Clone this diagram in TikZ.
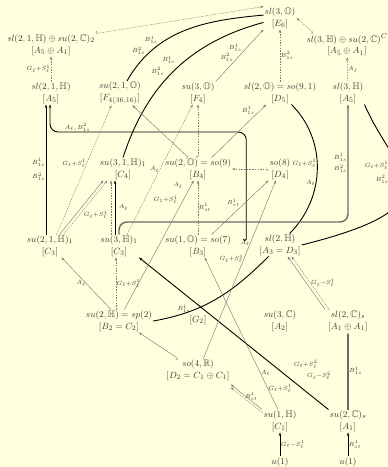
\documentclass[tikz,border=0pt]{standalone}
\usepackage{amsmath}
\usepackage{amssymb}
\usepackage{tikz}
\usetikzlibrary{arrows.meta}
\definecolor{bgyellow}{RGB}{255,255,221}
\definecolor{linegray}{RGB}{125,125,125}
\definecolor{textgray}{RGB}{60,60,60}

\begin{document}
\begin{tikzpicture}[x=1pt,y=1pt,>={Stealth[length=3.5pt,width=2.4pt]}]
  \tikzstyle{alg}=[align=center,font=\fontsize{9.5}{11.5}\selectfont,inner sep=1pt,text=textgray]
  \tikzstyle{lab}=[font=\fontsize{5.8}{6.5}\selectfont,inner sep=0.5pt,text=textgray]
  \tikzstyle{plain}=[->,draw=linegray,line width=0.45pt]
  \tikzstyle{dotarr}=[->,draw=linegray,line width=0.45pt,dash pattern=on 1.5pt off 1.2pt]
  \tikzstyle{heavy}=[->,draw=black,line width=0.9pt]
  \tikzstyle{arc}=[draw=black,line width=0.9pt]
  \tikzstyle{heavygray}=[->,draw=linegray!85!black,line width=1.4pt]
  \tikzstyle{hooked}=[{Hooks[right]}->]

  \fill[bgyellow] (0,0) rectangle (388,-467);
  \useasboundingbox (0,0) rectangle (388,-467);

  % algebras, row by row
  \node[alg] (E6) at (280,-18) {$sl(3,\mathbb{O})$\\$[E_6]$};
  \node[alg] (L1) at (51,-45) {$sl(2,1,\mathbb{H})\oplus su(2,\mathbb{C})_2$\\$[A_5\oplus A_1]$};
  \node[alg] (R1) at (347,-45) {$sl(3,\mathbb{H})\oplus su(2,\mathbb{C})^C$\\$[A_5\oplus A_1]$};
  \node[alg] (A5l) at (51,-93) {$sl(2,1,\mathbb{H})$\\$[A_5]$};
  \node[alg] (F4n) at (120,-93) {$su(2,1,\mathbb{O})$\\$[F_{4(36,16)}]$};
  \node[alg] (F4) at (198,-93) {$su(3,\mathbb{O})$\\$[F_4]$};
  \node[alg] (D5) at (280,-93) {$sl(2,\mathbb{O})=so(9,1)$\\$[D_5]$};
  \node[alg] (A5r) at (348,-93) {$sl(3,\mathbb{H})$\\$[A_5]$};
  \node[alg] (C4) at (123,-169) {$su(3,1,\mathbb{H})_1$\\$[C_4]$};
  \node[alg] (B4) at (198,-169) {$su(2,\mathbb{O})=so(9)$\\$[B_4]$};
  \node[alg] (D4) at (280,-169) {$so(8)$\\$[D_4]$};
  \node[alg] (C3a) at (50,-246) {$su(2,1,\mathbb{H})_1$\\$[C_3]$};
  \node[alg] (C3b) at (119,-246) {$su(3,\mathbb{H})_1$\\$[C_3]$};
  \node[alg] (B3) at (198,-246) {$su(1,\mathbb{O})=so(7)$\\$[B_3]$};
  \node[alg] (A3) at (280,-245) {$sl(2,\mathbb{H})$\\$[A_3=D_3]$};
  \node[alg] (B2) at (119,-321) {$su(2,\mathbb{H})=sp(2)$\\$[B_2=C_2]$};
  \node[alg] (G2) at (198,-320) {$[G_2]$};
  \node[alg] (A2) at (280,-321) {$su(3,\mathbb{C})$\\$[A_2]$};
  \node[alg] (A1A1) at (348,-321) {$sl(2,\mathbb{C})_s$\\$[A_1\oplus A_1]$};
  \node[alg] (D2) at (198,-370) {$so(4,\mathbb{R})$\\$[D_2=C_1\oplus C_1]$};
  \node[alg] (C1) at (280,-421) {$su(1,\mathbb{H})$\\$[C_1]$};
  \node[alg] (A1) at (348,-421) {$su(2,\mathbb{C})_s$\\$[A_1]$};
  \node[alg] (U1a) at (280,-462) {$u(1)$};
  \node[alg] (U1b) at (348,-462) {$u(1)$};

  % top of the diagram
  \draw[dotarr] (A5l) -- node[lab,left]{$G_\ell{+}S^1_\ell$} (L1);
  \draw[dotarr] (A5r) -- node[lab,right]{$A_\ell$} (R1);
  \draw[dotarr] (D5) -- node[lab,right]{$B^2_{1s}$} (E6);
  \draw[dotarr,hooked] (L1.north east) -- (E6.north west);
  \draw[dotarr,hooked] ([xshift=8pt]R1.north west) -- (E6.east);
  \draw[plain] (F4.north east) -- node[lab,above left,pos=.56]{$B^1_{1s}$}
    node[lab,above left,pos=.38]{$B^2_{1s}$} (E6.south west);
  \draw[arc] (F4n.60) to[out=60,in=185] node[lab,above left,pos=.3]{$B^1_{1s}$}
    node[lab,above left,pos=.19]{$B^2_{1s}$} (E6.170);
  \draw[arc] (C4.north) to[out=72,in=195] node[lab,left=10pt,pos=.58]{$B^1_{1s}$}
    node[lab,left=8pt,pos=.49]{$B^2_{1s}$} (E6.195);

  % arcs on the right
  \draw[arc] (A3.50) to[out=45,in=-45] node[lab,left,pos=.54]{$G_\ell{+}S^1_\ell$}
    node[lab,left,pos=.4]{$A_\ell$} (D5.-45);
  \draw[arc] (A3.east) .. controls +(160,40) and +(30,-70) ..
    node[lab,left=9pt,pos=.65]{$G_\ell{+}S^1_\ell$}
    node[lab,left=14pt,pos=.55]{$B^2_{1s}$} (A5r.south east);

  % long bracket paths
  \coordinate (hblack) at (0,-132);
  \coordinate (hgray) at (0,-222);
  \draw[heavy,hooked,rounded corners=8pt] ([xshift=-12pt,yshift=4pt]A3.west)
    |- node[lab,above,pos=.93]{$A_\ell,B^2_{1s}$} ([xshift=-1pt]A5l.south |- hblack)
    -- ([xshift=-1pt]A5l.south);
  \draw[heavygray,rounded corners=8pt] (C3b.north) |- (A5r.south |- hgray)
    -- node[lab,left,align=center]{$B^1_{1s}$\\[3pt]$B^2_{1s}$} (A5r.south);

  % straight heavy arrows
  \draw[heavy] ([xshift=-4pt]C3a.north) -- node[lab,left,align=center]{$B^1_{1s}$\\[6pt]$B^2_{1s}$}
    ([xshift=-4pt]C3a.north |- A5l.south);
  \draw[heavy] ([xshift=-4pt]C3b.north) -- node[lab,right=3pt]{$A_\ell$}
    ([xshift=-4pt]C3b.north |- C4.south);
  \draw[dotarr] ([xshift=-8pt]C3b.north) -- ([xshift=-8pt]C3b.north |- C4.south);
  \draw[heavy] (A1.north west) -- node[lab,above=22pt,pos=.12]{$G_\ell{+}S^2_\ell$}
    node[lab,above=21pt,pos=.05]{$G_\ell{-}S^2_\ell$} (C3b.south east);
  \draw[arc] (B2.east) to[out=10,in=-135] node[lab,above,pos=.22]{$B^1_{1s}$} (A3.-135);
  \draw[heavy] (U1a) -- node[lab,right]{$G_\ell{-}S^1_\ell$} (C1);
  \draw[heavy] (U1b) -- node[lab,right]{$R^1_{st}$} (A1);
  \draw[heavygray] (A1) -- node[lab,right]{$B^1_{1s}$} (A1A1);

  % thin connectors
  \draw[dotarr] (C3a.60) -- node[lab,left,pos=.55]{$G_\ell{+}S^1_\ell$} (F4n.-125);
  \draw[plain] ([xshift=-2pt]C3a.45) -- ([xshift=-2pt]C4.-147);
  \draw[dotarr] ([xshift=2pt]C3a.45) -- node[lab,below right,pos=.45]{$G_\ell{+}S^1_\ell$} ([xshift=2pt]C4.-147);
  \draw[dotarr] (C3b.55) -- node[lab,left]{$A_\ell$} (F4.-115);
  \draw[dotarr,hooked] (B4.north) -- (F4.south);
  \draw[plain] (B4.40) -- node[lab,above left,pos=.8]{$B^1_{1s}$} (D5.-140);
  \draw[plain,hooked] (B4.130) -- (F4n.-45);
  \draw[dotarr,hooked] (D4.west) -- (B4.east);
  \draw[dotarr] (B3) -- node[lab,right]{$R^1_{st}$} (B4);
  \draw[plain] (B3.40) -- node[lab,above left]{$R^1_{st}$} (D4.-135);
  \draw[plain] (D2.65) -- node[lab,left,pos=.65]{$A_\ell$}
    node[lab,left,pos=.56]{$G_\ell{+}S^1_\ell$} (D4.-110);
  \draw[plain] (B2.65) -- node[lab,left=8pt,pos=.96]{$A_\ell$}
    node[lab,left=5pt,pos=.85]{$G_1{+}S^1_\ell$} (B4.-110);
  \draw[dotarr] ([xshift=-3pt]B2.north) -- node[lab,right]{$G_\ell{+}S^1_\ell$} ([xshift=-3pt]C3b.south);
  \draw[plain] (B2.125) -- node[lab,left]{$A_\ell$} (C3a.-45);
  \draw[plain,hooked] (D2.150) -- (B2.-30);
  \draw[plain] (C1.100) -- node[lab,right,pos=.24]{$A_\ell$}
    node[lab,right,pos=.14]{$G_\ell{+}S^1_\ell$} (B3.-60);
  \draw[plain] (C1.north west) -- node[lab,above,pos=.35]{$R^1_{st}$} ([yshift=-3pt]D2.south east);
  \draw[dotarr] ([yshift=-3pt]C1.north west) -- ([yshift=-6pt]D2.south east);
  \draw[plain] ([xshift=-2pt]A1A1.north west) -- ([xshift=-2pt]A3.-50);
  \draw[dotarr] ([xshift=2pt]A1A1.north west) -- node[lab,right]{$G_\ell{-}S^1_\ell$} ([xshift=2pt]A3.-50);
\end{tikzpicture}
\end{document}
